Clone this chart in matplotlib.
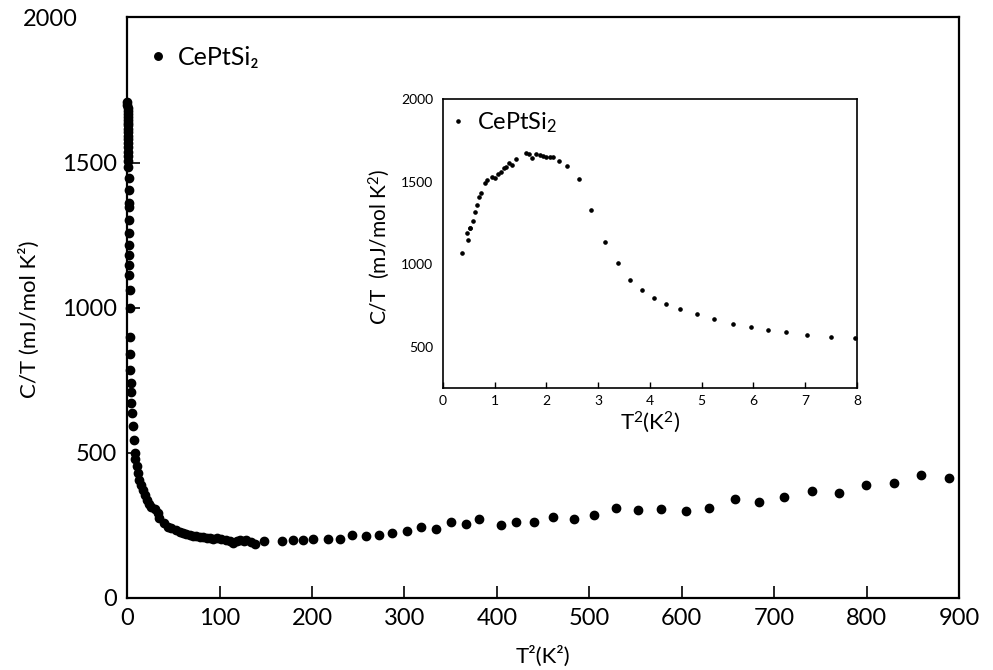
import matplotlib
matplotlib.use("Agg")
import matplotlib.pyplot as plt
from matplotlib.transforms import ScaledTranslation

plt.rcParams['font.family'] = ['Lato', 'DejaVu Sans']
plt.rcParams['mathtext.default'] = 'regular'

# main panel: C/T vs T^2
main_t2 = [0.3, 0.4, 0.5, 0.6, 0.7, 0.8, 0.9, 1.0, 1.0, 1.1, 1.1, 1.2, 1.2, 1.3, 1.3, 1.4, 1.4, 1.5, 1.5,
           1.6, 1.7, 1.8, 1.9, 2.0, 2.1, 2.2, 2.3, 2.4, 2.5, 2.6, 2.7,
           2.8, 3.1, 3.5, 3.9, 4.3, 4.7, 5.2, 6.0, 7.0, 8.0, 9.0, 10.5, 12, 13, 15, 17, 19, 22, 24, 26, 30,
           33, 35, 40, 44, 48, 53, 57, 60, 64, 68, 71, 75, 79, 82, 86, 90, 93, 97, 102, 107, 111, 115,
           119, 122, 126, 129, 134, 138, 148,
           167, 179, 190, 201, 217, 230, 243, 258, 272, 287, 303, 318, 334, 350, 367, 381,
           404, 421, 440, 461, 483, 505, 529, 553, 577, 604, 629, 657, 683, 711, 741, 770, 799, 829, 859, 889]
main_ct = [1707, 1697, 1688, 1678, 1668, 1658, 1648, 1638, 1628, 1616, 1604, 1592, 1580, 1566, 1552, 1538, 1522, 1506, 1486,
           1448, 1407, 1362, 1348, 1303, 1259, 1217, 1183, 1148, 1114, 1062, 1000,
           899, 841, 784, 742, 711, 671, 637, 591, 545, 499, 480, 453, 430, 407, 390, 372, 355, 338, 325, 315, 305,
           292, 275, 260, 246, 240, 234, 228, 223, 220, 217, 215, 212, 209, 209, 207, 205, 204, 206, 202, 200, 195, 188,
           198, 200, 196, 200, 192, 185, 197,
           198, 200, 200, 202, 202, 202, 217, 215, 217, 223, 231, 246, 237, 263, 254, 271,
           251, 263, 261, 278, 271, 287, 309, 303, 306, 300, 311, 341, 329, 347, 369, 361, 390, 396, 422, 413]

# inset: low temperature part
ins_t2 = [0.37, 0.46, 0.48, 0.52, 0.53, 0.59, 0.62, 0.65, 0.70, 0.73, 0.81, 0.86, 0.95, 1.0, 1.07, 1.12,
          1.18, 1.22, 1.28, 1.33, 1.42, 1.60, 1.67, 1.73, 1.80, 1.87, 1.94, 2.0, 2.07, 2.13, 2.24, 2.40,
          2.63, 2.87, 3.14, 3.38, 3.61, 3.84, 4.07, 4.31, 4.58, 4.90, 5.24, 5.60, 5.95, 6.29, 6.63, 7.04,
          7.49, 7.96]
ins_ct = [1067, 1187, 1147, 1218, 1221, 1264, 1316, 1359, 1409, 1429, 1490, 1510, 1530, 1524, 1544, 1560,
          1580, 1587, 1611, 1601, 1637, 1671, 1667, 1641, 1667, 1661, 1655, 1651, 1651, 1651, 1625, 1597,
          1514, 1329, 1135, 1006, 905, 845, 794, 758, 729, 695, 665, 635, 621, 601, 587, 568,
          558, 552]

main_xticks = [0, 100, 200, 300, 400, 500, 600, 700, 800, 900]
main_yticks = [0, 500, 1000, 1500, 2000]
ins_xticks = [0, 1, 2, 3, 4, 5, 6, 7, 8]
ins_yticks = [500, 1000, 1500, 2000]

fig = plt.figure(figsize=(9.93, 6.70), dpi=100)

ax = fig.add_axes([0.128, 0.1075, 0.838, 0.8665])
ax.plot(main_t2, main_ct, 'o', color='black', markersize=6, clip_on=False, label='CePtSi₂')
ax.set_xlim(0, 900)
ax.set_ylim(0, 2000)
ax.set_xticks(main_xticks)
ax.set_yticks(main_yticks)
ax.tick_params(direction='in', length=9, width=1.2, labelsize=17, pad=7)
for s in ax.spines.values():
    s.set_linewidth(1.6)
ax.set_xlabel('T²(K²)', fontsize=16, labelpad=12)
ax.set_ylabel('C/T (mJ/mol K²)', fontsize=16)
ax.yaxis.set_label_coords(-0.105, 0.48)
# the 2000 label sits further left in the original
top_lbl = ax.get_yticklabels()[-1]
top_lbl.set_transform(top_lbl.get_transform() + ScaledTranslation(-0.4, 0, fig.dpi_scale_trans))
ax.legend(loc='upper left', bbox_to_anchor=(-0.005, 0.99), frameon=False, fontsize=18,
          handlelength=1.0, handletextpad=0.3, borderaxespad=0.5, markerscale=0.9)

# inset
ins = fig.add_axes([0.446, 0.421, 0.417, 0.431])
ins.plot(ins_t2, ins_ct, 'o', color='black', markersize=2.3, clip_on=False, label='CePtSi$_2$')
ins.set_xlim(0, 8)
ins.set_ylim(250, 2000)
ins.set_xticks(ins_xticks)
ins.set_yticks(ins_yticks)
ins.tick_params(axis='x', direction='in', length=4, width=1, labelsize=10, pad=5)
ins.tick_params(axis='y', length=0, labelsize=10, pad=7)
for s in ins.spines.values():
    s.set_linewidth(1.2)
ins.set_xlabel('T$^2$(K$^2$)', fontsize=16, labelpad=2)
ins.set_ylabel('C/T  (mJ/mol K$^2$)', fontsize=15)
ins.yaxis.set_label_coords(-0.123, 0.49)
ins.legend(loc='upper left', bbox_to_anchor=(-0.02, 1.01), frameon=False, fontsize=17,
           handlelength=0.8, handletextpad=0.4, borderaxespad=0.2, markerscale=1.0)

fig.savefig('out.png', dpi=100)
